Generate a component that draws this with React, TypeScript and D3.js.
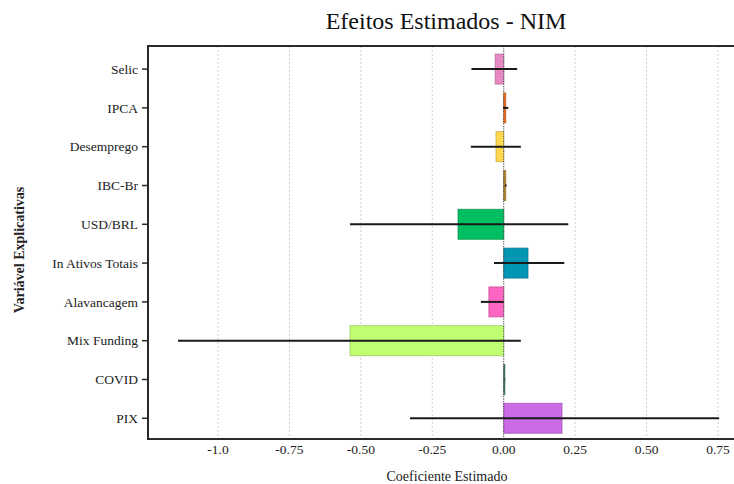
import React, { useEffect, useRef } from "react";
import * as d3 from "d3";

const VARIABLES = [
  "Selic",
  "IPCA",
  "Desemprego",
  "IBC-Br",
  "USD/BRL",
  "In Ativos Totais",
  "Alavancagem",
  "Mix Funding",
  "COVID",
  "PIX",
];
const COEFS = [-0.03, 0.007, -0.027, 0.007, -0.16, 0.085, -0.052, -0.538, 0.004, 0.204];
const CI_LOW = [-0.113, -0.002, -0.115, 0.004, -0.538, -0.034, -0.08, -1.14, 0.003, -0.328];
const CI_HIGH = [0.047, 0.016, 0.06, 0.01, 0.226, 0.212, 0.0, 0.06, 0.005, 0.754];
const COLORS = [
  "#e78ac3",
  "#f26b1d",
  "#ffd84f",
  "#b8862b",
  "#00bf63",
  "#0096b4",
  "#ff66c4",
  "#c1ff72",
  "#3a7d5a",
  "#cb6ce6",
];
const X_TICKS = [-1.0, -0.75, -0.5, -0.25, 0.0, 0.25, 0.5, 0.75];
const X_TICK_LABELS = ["-1.0", "-0.75", "-0.50", "-0.25", "0.00", "0.25", "0.50", "0.75"];

const FONT = "'Liberation Serif', 'Times New Roman', serif";

export default function App() {
  const ref = useRef<SVGSVGElement>(null);

  useEffect(() => {
    document.body.style.margin = "0";
    const svg = d3.select(ref.current);
    svg.selectAll("*").remove();

    const W = 734,
      H = 484;
    const left = 148,
      top = 46,
      bottom = 439,
      right = 734;

    const x = d3.scaleLinear().domain([-1, 0.75]).range([218, 718]);
    const y = d3
      .scaleBand()
      .domain(VARIABLES)
      .range([49.7, 437.7])
      .paddingInner(0.227)
      .paddingOuter(0.1135);

    const rows = VARIABLES.map((v, i) => ({
      name: v,
      coef: COEFS[i],
      lo: CI_LOW[i],
      hi: CI_HIGH[i],
      color: COLORS[i],
    }));

    // grid
    svg
      .append("g")
      .selectAll("line")
      .data(X_TICKS)
      .enter()
      .append("line")
      .attr("x1", (d) => x(d))
      .attr("x2", (d) => x(d))
      .attr("y1", top)
      .attr("y2", bottom)
      .attr("stroke", "#cfcfcf")
      .attr("stroke-width", 1)
      .attr("stroke-dasharray", "2,2");

    // bars
    svg
      .append("g")
      .selectAll("rect")
      .data(rows)
      .enter()
      .append("rect")
      .attr("x", (d) => x(Math.min(0, d.coef)))
      .attr("y", (d) => y(d.name)!)
      .attr("width", (d) => Math.abs(x(d.coef) - x(0)))
      .attr("height", y.bandwidth())
      .attr("fill", (d) => d.color)
      .attr("stroke", (d) => d3.color(d.color)!.darker(0.8).toString())
      .attr("stroke-opacity", 0.7)
      .attr("stroke-width", 1);

    // zero line
    svg
      .append("line")
      .attr("x1", x(0))
      .attr("x2", x(0))
      .attr("y1", top)
      .attr("y2", bottom)
      .attr("stroke", "#444")
      .attr("stroke-width", 1)
      .attr("stroke-dasharray", "1,1.5");

    // error bars
    svg
      .append("g")
      .selectAll("line")
      .data(rows)
      .enter()
      .append("line")
      .attr("x1", (d) => x(d.lo))
      .attr("x2", (d) => x(d.hi))
      .attr("y1", (d) => y(d.name)! + y.bandwidth() / 2)
      .attr("y2", (d) => y(d.name)! + y.bandwidth() / 2)
      .attr("stroke", "#1a1a1a")
      .attr("stroke-width", 2);

    // frame
    svg
      .append("path")
      .attr("d", `M${right},${top}H${left}V${bottom}H${right}`)
      .attr("fill", "none")
      .attr("stroke", "#2a2a2a")
      .attr("stroke-width", 2);

    // y ticks + labels
    const yt = svg
      .append("g")
      .selectAll("g")
      .data(VARIABLES)
      .enter()
      .append("g")
      .attr("transform", (d) => `translate(0,${y(d)! + y.bandwidth() / 2})`);
    yt.append("line")
      .attr("x1", left - 6)
      .attr("x2", left)
      .attr("stroke", "#2a2a2a")
      .attr("stroke-width", 1.5);
    yt.append("text")
      .attr("x", left - 10)
      .attr("dy", "0.35em")
      .attr("text-anchor", "end")
      .attr("font-family", FONT)
      .attr("font-size", 13.5)
      .attr("fill", "#222")
      .text((d) => d);

    // x tick labels
    svg
      .append("g")
      .selectAll("text")
      .data(X_TICKS)
      .enter()
      .append("text")
      .attr("x", (d) => x(d))
      .attr("y", 454)
      .attr("text-anchor", "middle")
      .attr("font-family", FONT)
      .attr("font-size", 13.5)
      .attr("fill", "#222")
      .text((d, i) => X_TICK_LABELS[i]);

    // titles
    svg
      .append("text")
      .attr("x", 446)
      .attr("y", 29)
      .attr("text-anchor", "middle")
      .attr("font-family", FONT)
      .attr("font-size", 24)
      .attr("fill", "#111")
      .text("Efeitos Estimados - NIM");

    svg
      .append("text")
      .attr("x", 447)
      .attr("y", 481)
      .attr("text-anchor", "middle")
      .attr("font-family", FONT)
      .attr("font-size", 14)
      .attr("fill", "#222")
      .text("Coeficiente Estimado");

    svg
      .append("text")
      .attr("transform", `translate(24,250) rotate(-90)`)
      .attr("text-anchor", "middle")
      .attr("font-family", FONT)
      .attr("font-size", 14)
      .attr("font-weight", "bold")
      .attr("fill", "#222")
      .text("Variável Explicativas");

    svg.attr("width", W).attr("height", H);
  }, []);

  return <svg ref={ref} width={734} height={484} style={{ display: "block" }}></svg>;
}
